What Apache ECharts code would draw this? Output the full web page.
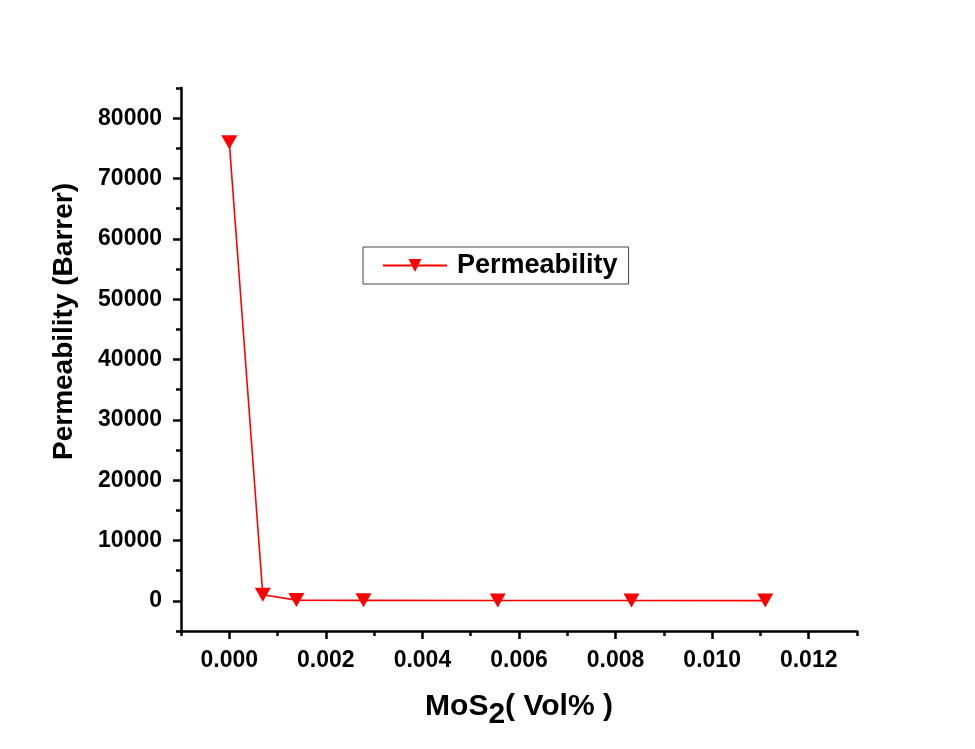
<!DOCTYPE html>
<html>
<head>
<meta charset="utf-8">
<script src="https://cdn.jsdelivr.net/npm/echarts@6/dist/echarts.min.js"></script>
<style>
  html, body { margin: 0; padding: 0; background: #fff; }
  #chart { width: 975px; height: 749px; }
</style>
</head>
<body>
<div id="chart"></div>
<script>
const volFraction = [0, 0.000694, 0.00139, 0.00278, 0.00556, 0.00833, 0.0111];
const permeability = [76000, 1000, 120, 80, 60, 50, 40];

const xMajorTicks = [0, 0.002, 0.004, 0.006, 0.008, 0.010, 0.012];
const xMinorTicks = [-0.001, 0.001, 0.003, 0.005, 0.007, 0.009, 0.011, 0.013];
const yMajorTicks = [0, 10000, 20000, 30000, 40000, 50000, 60000, 70000, 80000];
const yMinorTicks = [-5000, 5000, 15000, 25000, 35000, 45000, 55000, 65000, 75000, 85000];

const font = 'Liberation Sans, Arial, sans-serif';

window.addEventListener('load', () => {
  const chart = echarts.init(document.getElementById('chart'));

  const baseX = { type: 'value', min: -0.001, max: 0.013, gridIndex: 0, position: 'bottom', splitLine: { show: false } };
  const baseY = { type: 'value', min: -5000, max: 85000, gridIndex: 0, position: 'left', splitLine: { show: false } };

  chart.setOption({
    animation: false,
    backgroundColor: '#fff',
    grid: { left: 181, right: 118, top: 88, bottom: 118 },
    legend: {
      left: 363,
      top: 247,
      padding: [5, 11, 5, 19],
      borderColor: '#444',
      borderWidth: 1,
      itemWidth: 64,
      itemHeight: 16,
      itemGap: 0,
      textStyle: { fontFamily: font, fontWeight: 'bold', fontSize: 27, color: '#000', padding: [0, 0, 0, 5] },
      data: ['Permeability']
    },
    xAxis: [
      Object.assign({}, baseX, {
        name: '{a|MoS}{b|2}{a|( Vol% )}',
        nameLocation: 'middle',
        nameGap: 53,
        nameTextStyle: {
          rich: {
            a: { fontFamily: font, fontWeight: 'bold', fontSize: 30, color: '#000' },
            b: { fontFamily: font, fontWeight: 'bold', fontSize: 30, color: '#000', padding: [16, 0, 0, 0] }
          }
        },
        axisLine: { onZero: false, lineStyle: { color: '#000', width: 2.5 } },
        axisTick: { length: 8, lineStyle: { color: '#000', width: 2.5 }, customValues: xMajorTicks },
        axisLabel: {
          customValues: xMajorTicks,
          margin: 18,
          fontFamily: font, fontWeight: 'bold', fontSize: 23, color: '#000',
          formatter: v => v.toFixed(3)
        }
      }),
      Object.assign({}, baseX, {
        axisLine: { show: false, onZero: false },
        axisTick: { length: 5, lineStyle: { color: '#000', width: 2.5 }, customValues: xMinorTicks },
        axisLabel: { show: false }
      })
    ],
    yAxis: [
      Object.assign({}, baseY, {
        name: 'Permeability (Barrer)',
        nameLocation: 'middle',
        nameGap: 103,
        nameTextStyle: { fontFamily: font, fontWeight: 'bold', fontSize: 28, color: '#000', padding: [0, 0, 0, 76] },
        axisLine: { onZero: false, lineStyle: { color: '#000', width: 2.5 } },
        axisTick: { length: 8, lineStyle: { color: '#000', width: 2.5 }, customValues: yMajorTicks },
        axisLabel: {
          customValues: yMajorTicks,
          margin: 19,
          fontFamily: font, fontWeight: 'bold', fontSize: 23, color: '#000',
          formatter: v => String(v)
        }
      }),
      Object.assign({}, baseY, {
        axisLine: { show: false, onZero: false },
        axisTick: { length: 5, lineStyle: { color: '#000', width: 2.5 }, customValues: yMinorTicks },
        axisLabel: { show: false }
      })
    ],
    series: [{
      name: 'Permeability',
      type: 'line',
      xAxisIndex: 0,
      yAxisIndex: 0,
      data: volFraction.map((x, i) => [x, permeability[i]]),
      symbol: 'triangle',
      symbolRotate: 180,
      symbolSize: [16, 14],
      lineStyle: { color: '#ff0000', width: 1.6 },
      itemStyle: { color: '#ff0000' }
    }]
  });
});
</script>
</body>
</html>
